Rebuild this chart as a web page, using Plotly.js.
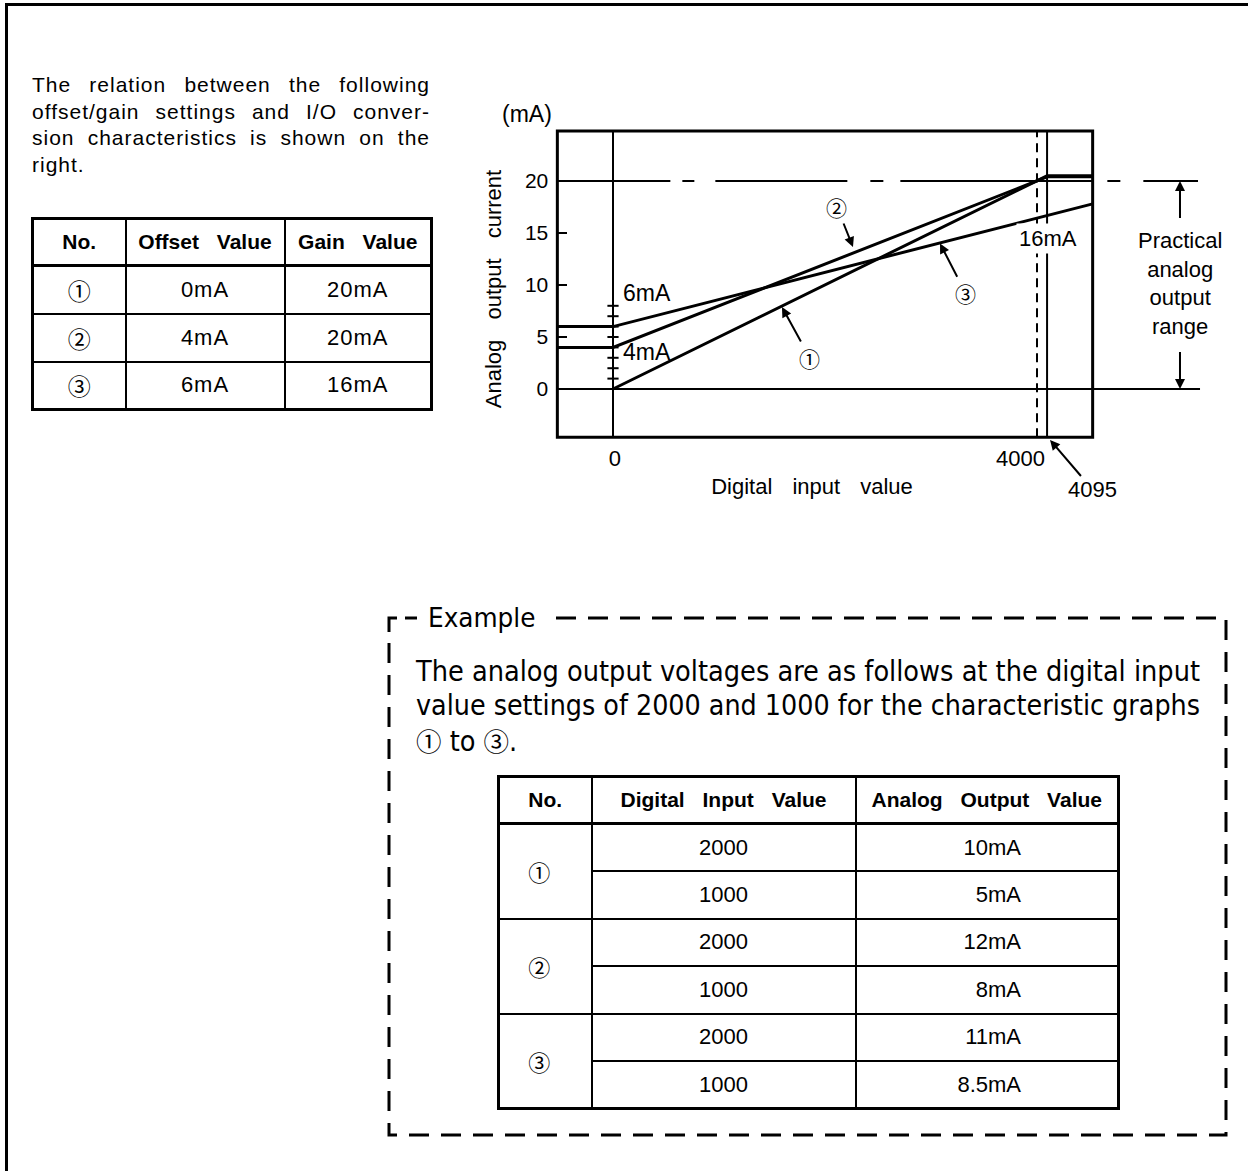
<!DOCTYPE html>
<html>
<head>
<meta charset="utf-8">
<script src="https://cdn.plot.ly/plotly-3.0.1.min.js"></script>
<style>
html,body{margin:0;padding:0;background:#fff;}
body{width:1248px;height:1171px;position:relative;overflow:hidden;font-family:"Liberation Sans",Arial,Helvetica,sans-serif;color:#000;}
#pageframe{position:absolute;left:5px;top:3px;width:1400px;height:1400px;border-top:3px solid #000;border-left:3px solid #000;}
#chart{position:absolute;left:0;top:0;width:1248px;height:520px;}
.cd{font-family:"Noto Sans CJK JP","Noto Sans CJK SC","DejaVu Sans",sans-serif;}
.intro{position:absolute;left:32px;top:72px;width:398px;font-size:21px;line-height:26.5px;letter-spacing:1px;}
.intro .j{text-align:justify;text-align-last:justify;}
table.tbl{position:absolute;border-collapse:collapse;table-layout:fixed;border:3px solid #000;}
table.tbl td,table.tbl th{border:2px solid #000;padding:0;text-align:center;vertical-align:middle;font-weight:normal;}
table.tbl th{font-weight:bold;font-size:21px;word-spacing:12px;border-bottom:3px solid #000;}
#t1{left:31px;top:217px;width:399px;}
#t1 td{font-size:22px;letter-spacing:1px;}
#t1 td.cd{font-size:23px;letter-spacing:0;}
#t2{left:497px;top:775px;width:620px;}
#t2 td{font-size:22px;}
#t2 td.cd{font-size:22px;padding-right:12px;}
#t2 td.out{text-align:right;padding-right:96px;}
#exsvg{position:absolute;left:0;top:0;}
#exlabel{position:absolute;left:428px;top:601px;font-family:"Liberation Sans Narrow","DejaVu Sans Condensed","Liberation Sans",Arial,sans-serif;font-size:27px;line-height:34px;background:#fff;padding-right:6px;}
#exlabel span,.exline span{display:inline-block;white-space:nowrap;transform-origin:0 50%;}
.expara{position:absolute;left:416px;top:655px;width:800px;font-family:"Liberation Sans Narrow","DejaVu Sans Condensed","Liberation Sans",Arial,sans-serif;font-size:28px;line-height:34px;}
.exline{height:34px;white-space:nowrap;}
.js-plotly-plot .xtitle,.js-plotly-plot .ytitle{word-spacing:14px;}
</style>
</head>
<body>
<div id="pageframe"></div>
<div id="chart"></div>

<div class="intro">
  <div class="j">The relation between the following</div>
  <div class="j">offset/gain settings and I/O conver-</div>
  <div class="j">sion characteristics is shown on the</div>
  <div>right.</div>
</div>

<table id="t1" class="tbl"></table>

<svg id="exsvg" width="1248" height="1171">
  <g stroke="#000" stroke-width="3" fill="none">
    <path d="M389,632 V618 H397"/>
    <path d="M405,618 H417"/>
    <path d="M556,618 H1226 V1135 H389 V632" stroke-dasharray="20 12"/>
  </g>
</svg>
<div id="exlabel"><span>Example</span></div>
<div class="expara">
  <div class="exline"><span>The analog output voltages are as follows at the digital input</span></div>
  <div class="exline"><span>value settings of 2000 and 1000 for the characteristic graphs</span></div>
  <div class="exline"><span><span class="cd" style="font-size:25px">①</span> to <span class="cd" style="font-size:25px">③</span>.</span></div>
</div>

<table id="t2" class="tbl"></table>

<script>
// ---------------- data ----------------
// Settings table
const settingNo = ['①', '②', '③'];
const offsetValues = ['0mA', '4mA', '6mA'];
const gainValues = ['20mA', '20mA', '16mA'];

// Example table
const exampleNo = ['①', '②', '③'];
const exampleInputs = ['2000', '1000'];
const exampleOutputs1 = ['10mA', '5mA'];
const exampleOutputs2 = ['12mA', '8mA'];
const exampleOutputs3 = ['11mA', '8.5mA'];

// Characteristic graphs (digital input value -> analog output current, mA)
const graph1X = [0, 4095, 4525];
const graph1Y = [0, 20.5, 20.5];
const graph2X = [-525, 0, 4095, 4525];
const graph2Y = [4, 4, 20.4, 20.4];
const graph3X = [-525, 0, 4525];
const graph3Y = [6, 6, 17.8];

// Small scale marks on the 0 line (mA)
const zeroMarkY = [1, 2, 3, 4, 5, 6, 7, 8];

// Axis ticks
const yTickVals = [0, 5, 10, 15, 20];
const xTickVals = [0, 4000];
const xTickText = ['0', '4000'];

// Reference values
const fullScaleInput = 4000;
const maxInput = 4095;
const rangeLow = 0;
const rangeHigh = 20;

// ---------------- tables ----------------
(function buildTables(){
  const t1 = document.getElementById('t1');
  let h = '<colgroup><col style="width:93px"><col style="width:159px"><col style="width:147px"></colgroup>';
  h += '<tr style="height:47px"><th>No.</th><th>Offset Value</th><th>Gain Value</th></tr>';
  for (let i = 0; i < settingNo.length; i++) {
    h += '<tr style="height:48px"><td class="cd">' + settingNo[i] + '</td><td>' + offsetValues[i] + '</td><td>' + gainValues[i] + '</td></tr>';
  }
  t1.innerHTML = h;

  const t2 = document.getElementById('t2');
  const outs = [exampleOutputs1, exampleOutputs2, exampleOutputs3];
  let g = '<colgroup><col style="width:93px"><col style="width:264px"><col style="width:263px"></colgroup>';
  g += '<tr style="height:47px"><th>No.</th><th>Digital Input Value</th><th>Analog Output Value</th></tr>';
  for (let i = 0; i < exampleNo.length; i++) {
    for (let j = 0; j < exampleInputs.length; j++) {
      g += '<tr style="height:47.5px">';
      if (j === 0) g += '<td class="cd" rowspan="2">' + exampleNo[i] + '</td>';
      g += '<td>' + exampleInputs[j] + '</td><td class="out">' + outs[i][j] + '</td></tr>';
    }
  }
  t2.innerHTML = g;
})();

function fitExample(){
  const spans = document.querySelectorAll('.exline > span');
  spans.forEach(s => s.style.transform = '');
  const lab = document.querySelector('#exlabel span');
  lab.style.transform = '';
  const w0 = spans[0].getBoundingClientRect().width;
  const k0 = 784 / w0;
  spans.forEach((s, i) => {
    const w = s.getBoundingClientRect().width;
    const k = i < 2 ? 784 / w : k0;
    s.style.transform = 'scaleX(' + k + ')';
  });
  lab.style.transform = 'scaleX(' + k0 + ')';
  const lw = lab.getBoundingClientRect().width;
  document.getElementById('exlabel').style.width = (lw + 6) + 'px';
}
fitExample();
if (document.fonts && document.fonts.ready) document.fonts.ready.then(fitExample);

// ---------------- chart ----------------
const FR = {x0: -525, x1: 4525, y0: -4.65, y1: 24.8};
const BLACK = '#000';
const FONT = 'Liberation Sans, Arial, Helvetica, sans-serif';
const CFONT = 'Noto Sans CJK JP, Noto Sans CJK SC, DejaVu Sans, sans-serif';

const lineStyle = {color: BLACK, width: 3};
const traces = [
  {x: graph1X, y: graph1Y, mode: 'lines', line: lineStyle, name: '①', hoverinfo: 'skip'},
  {x: graph2X, y: graph2Y, mode: 'lines', line: lineStyle, name: '②', hoverinfo: 'skip'},
  {x: graph3X, y: graph3Y, mode: 'lines', line: lineStyle, name: '③', hoverinfo: 'skip'},
  {x: zeroMarkY.map(() => 0), y: zeroMarkY, mode: 'markers', hoverinfo: 'skip',
   marker: {symbol: 'line-ew', size: 8, line: {width: 2, color: BLACK}, color: BLACK}}
];

const shapes = [
  {type: 'rect', xref: 'x', yref: 'y', x0: FR.x0, x1: FR.x1, y0: FR.y0, y1: FR.y1, line: {color: BLACK, width: 3}},
  {type: 'line', xref: 'x', yref: 'y', x0: FR.x0, x1: 5538, y0: rangeLow, y1: rangeLow, line: {color: BLACK, width: 2}},
  {type: 'line', xref: 'x', yref: 'y', x0: FR.x0, x1: 5519, y0: rangeHigh, y1: rangeHigh,
   line: {color: BLACK, width: 2, dash: '113px,12px,12px,21px,132px,23px,13px,17px,192px,15px,13px,23px,55px,40px'}},
  {type: 'line', xref: 'x', yref: 'y', x0: 0, x1: 0, y0: FR.y0, y1: FR.y1, line: {color: BLACK, width: 2}},
  {type: 'line', xref: 'x', yref: 'y', x0: fullScaleInput, x1: fullScaleInput, y0: FR.y0, y1: FR.y1, line: {color: BLACK, width: 2, dash: '9px,6px'}},
  {type: 'line', xref: 'x', yref: 'y', x0: maxInput, x1: maxInput, y0: FR.y0, y1: FR.y1, line: {color: BLACK, width: 2}}
];

function txt(text, x, y, extra){
  return Object.assign({text: text, x: x, y: y, xref: 'x', yref: 'y', showarrow: false,
    font: {family: FONT, size: 22, color: BLACK}}, extra || {});
}
function arrow(text, x, y, ax, ay, extra){
  return Object.assign({text: text, x: x, y: y, ax: ax, ay: ay, xref: 'x', yref: 'y', axref: 'x', ayref: 'y',
    showarrow: true, arrowhead: 2, arrowsize: 1.0, arrowwidth: 2, arrowcolor: BLACK, standoff: 0,
    font: {family: FONT, size: 22, color: BLACK}}, extra || {});
}

const annotations = [
  txt('(mA)', -811, 26.44, {font: {family: FONT, size: 23, color: BLACK}}),
  txt('6mA', 75, 9.23, {xanchor: 'left', font: {family: FONT, size: 23, color: BLACK}}),
  txt('4mA', 75, 3.59, {xanchor: 'left', font: {family: FONT, size: 23, color: BLACK}}),
  txt('16mA', 4104, 14.45, {bgcolor: '#fff', borderpad: 2}),
  txt('Practical<br>analog<br>output<br>range', 5349, 10.1, {align: 'center'}),
  arrow(' ', 5349, rangeHigh, 5349, 15.1),
  arrow(' ', 5349, rangeLow, 5349, 4.9),
  arrow('②', 2264, 13.65, 2113, 17.5, {font: {family: CFONT, size: 21, color: BLACK}}),
  arrow('①', 1594, 7.88, 1858, 2.98, {font: {family: CFONT, size: 21, color: BLACK}}),
  arrow('③', 3085, 14.0, 3327, 9.2, {font: {family: CFONT, size: 21, color: BLACK}}),
  arrow(String(maxInput), 4123, -4.9, 4528, -9.71)
];

const layout = {
  width: 1248, height: 520,
  margin: {l: 400, r: 24, t: 80, b: 22, pad: 0},
  paper_bgcolor: 'rgba(0,0,0,0)', plot_bgcolor: 'rgba(0,0,0,0)',
  showlegend: false,
  font: {family: FONT, size: 22, color: BLACK},
  xaxis: {
    range: [-2009.4, 5764.2], anchor: 'free', position: 0.1452,
    tickvals: xTickVals, ticktext: xTickText, ticks: '', ticklabelstandoff: 6,
    ticklabelposition: 'outside left', ticklabelshift: 8,
    showgrid: false, zeroline: false, showline: false, fixedrange: true,
    tickfont: {family: FONT, size: 22, color: BLACK},
    title: {text: 'Digital input value', font: {family: FONT, size: 22, color: BLACK}, standoff: 8}
  },
  yaxis: {
    range: [-10.481, 29.712], anchor: 'free', position: 0.1909,
    tickvals: yTickVals, ticks: 'inside', ticklen: 9, tickwidth: 2, tickcolor: BLACK,
    ticklabelstandoff: 9,
    showgrid: false, zeroline: false, showline: false, fixedrange: true,
    tickfont: {family: FONT, size: 21, color: BLACK},
    title: {text: 'Analog output current', font: {family: FONT, size: 22, color: BLACK}, standoff: 16}
  },
  shapes: shapes,
  annotations: annotations
};

Plotly.newPlot('chart', traces, layout, {displayModeBar: false, staticPlot: true});
</script>
</body>
</html>
